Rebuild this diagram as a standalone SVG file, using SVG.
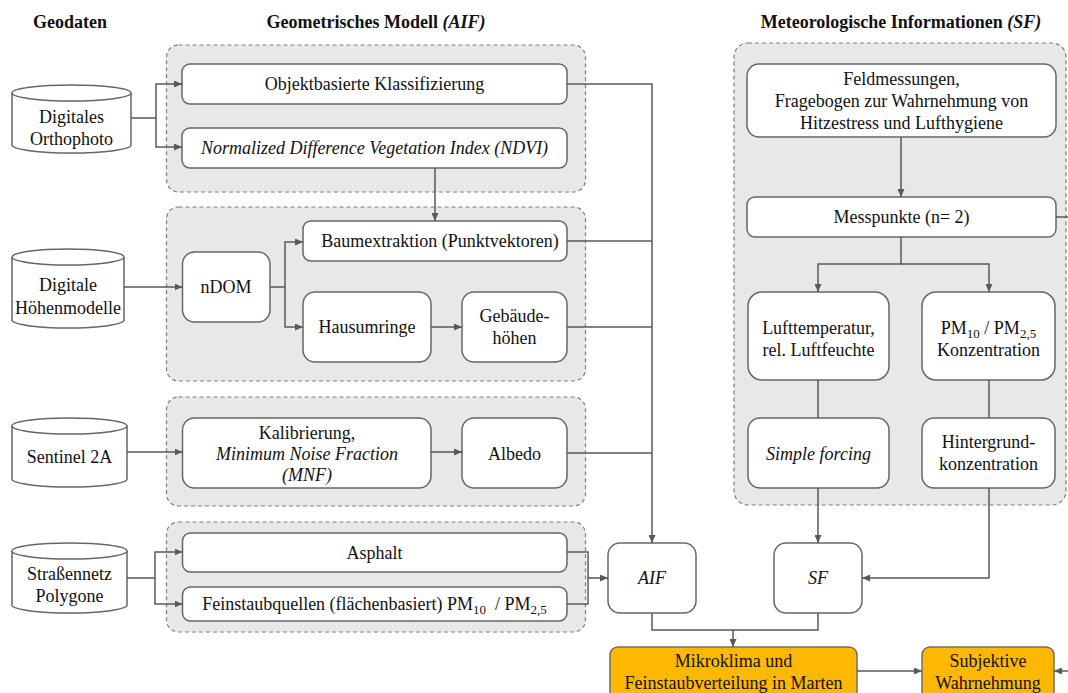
<svg xmlns="http://www.w3.org/2000/svg" width="1068" height="693" viewBox="0 0 1068 693">
  <defs>
    <marker id="arr" viewBox="0 0 8 7" refX="8" refY="3.5" markerWidth="8" markerHeight="7" markerUnits="userSpaceOnUse" orient="auto">
      <path d="M0,0 L8,3.5 L0,7 z" fill="#595959"/>
    </marker>
    <style>
      text { font-family: "Liberation Serif", "Times New Roman", serif; font-size: 18px; fill: #111; text-anchor: middle; }
      .title { font-weight: bold; }
      .it { font-style: italic; }
      .grp { fill: #E8E8E8; stroke: #7F7F7F; stroke-width: 1.2; stroke-dasharray: 4 3; }
      .box { fill: #FFFFFF; stroke: #666666; stroke-width: 1.5; }
      .hl { fill: #FFB800; stroke: #6E6E6E; stroke-width: 1.5; }
      .cyl { fill: #FFFFFF; stroke: #666666; stroke-width: 1.5; }
      .con { fill: none; stroke: #595959; stroke-width: 1.5; }
      .sub { font-size: 13px; }
    </style>
  </defs>

  <!-- column headings -->
  <text class="title" x="70" y="28">Geodaten</text>
  <text class="title" x="376" y="28">Geometrisches Modell <tspan class="it">(AIF)</tspan></text>
  <text class="title" x="901" y="28">Meteorologische Informationen <tspan class="it">(SF)</tspan></text>

  <!-- dashed processing groups -->
  <g id="group-ortho">
    <rect class="grp" x="166.5" y="45" width="419" height="147" rx="12"/>
  </g>
  <g id="group-hoehe">
    <rect class="grp" x="166.5" y="207" width="419" height="174" rx="12"/>
  </g>
  <g id="group-sentinel">
    <rect class="grp" x="166.5" y="397" width="419" height="109" rx="12"/>
  </g>
  <g id="group-strasse">
    <rect class="grp" x="166.5" y="522" width="419" height="110" rx="12"/>
  </g>
  <g id="group-meteo">
    <rect class="grp" x="734" y="43" width="332" height="462" rx="14"/>
  </g>

  <!-- data sources (cylinders) -->
  <g id="src-orthophoto">
    <path class="cyl" d="M12,93 A59.5,8 0 0 1 131,93 V145 A59.5,8 0 0 1 12,145 Z"/>
    <path class="cyl" d="M12,93 A59.5,8 0 0 0 131,93"/>
    <text x="71.5" y="123">Digitales</text>
    <text x="71.5" y="145">Orthophoto</text>
  </g>
  <g id="src-hoehenmodelle">
    <path class="cyl" d="M12,257 A56,8 0 0 1 124,257 V320 A56,8 0 0 1 12,320 Z"/>
    <path class="cyl" d="M12,257 A56,8 0 0 0 124,257"/>
    <text x="68" y="291">Digitale</text>
    <text x="68" y="314">Höhenmodelle</text>
  </g>
  <g id="src-sentinel">
    <path class="cyl" d="M12,426 A57.5,8 0 0 1 127,426 V479 A57.5,8 0 0 1 12,479 Z"/>
    <path class="cyl" d="M12,426 A57.5,8 0 0 0 127,426"/>
    <text x="69.5" y="463">Sentinel 2A</text>
  </g>
  <g id="src-strassennetz">
    <path class="cyl" d="M12,551 A57.5,8 0 0 1 127,551 V605 A57.5,8 0 0 1 12,605 Z"/>
    <path class="cyl" d="M12,551 A57.5,8 0 0 0 127,551"/>
    <text x="69.5" y="580">Straßennetz</text>
    <text x="69.5" y="602">Polygone</text>
  </g>

  <!-- geometric model nodes -->
  <g id="n-objekt">
    <rect class="box" x="182" y="64" width="385" height="40" rx="8"/>
    <text x="374.5" y="90">Objektbasierte Klassifizierung</text>
  </g>
  <g id="n-ndvi">
    <rect class="box" x="182" y="128" width="385" height="40" rx="8"/>
    <text class="it" x="374.5" y="154">Normalized Difference Vegetation Index (NDVI)</text>
  </g>
  <g id="n-ndom">
    <rect class="box" x="182.5" y="252" width="87.5" height="70" rx="12"/>
    <text x="226" y="293">nDOM</text>
  </g>
  <g id="n-baum">
    <rect class="box" x="303" y="221" width="264" height="40" rx="8"/>
    <text x="440" y="247">Baumextraktion (Punktvektoren)</text>
  </g>
  <g id="n-haus">
    <rect class="box" x="303" y="292" width="128" height="70" rx="12"/>
    <text x="367" y="333">Hausumringe</text>
  </g>
  <g id="n-gebaeude">
    <rect class="box" x="462" y="292" width="105" height="70" rx="12"/>
    <text x="514.5" y="322">Gebäude-</text>
    <text x="514.5" y="344">höhen</text>
  </g>
  <g id="n-kalibrierung">
    <rect class="box" x="182.5" y="418" width="248.5" height="70" rx="12"/>
    <text x="307" y="439">Kalibrierung,</text>
    <text class="it" x="307" y="460">Minimum Noise Fraction</text>
    <text class="it" x="307" y="481">(MNF)</text>
  </g>
  <g id="n-albedo">
    <rect class="box" x="462" y="418" width="105" height="70" rx="12"/>
    <text x="514.5" y="460">Albedo</text>
  </g>
  <g id="n-asphalt">
    <rect class="box" x="182.5" y="533" width="384.5" height="39" rx="8"/>
    <text x="374.5" y="559">Asphalt</text>
  </g>
  <g id="n-feinstaub">
    <rect class="box" x="182.5" y="587" width="384.5" height="34" rx="8"/>
    <text x="374.5" y="610">Feinstaubquellen (flächenbasiert) PM<tspan class="sub" dy="4">10</tspan><tspan dy="-4">&#160; / PM</tspan><tspan class="sub" dy="4">2,5</tspan></text>
  </g>

  <!-- meteorological nodes -->
  <g id="n-feldmessungen">
    <rect class="box" x="747" y="64" width="309" height="73" rx="12"/>
    <text x="901.5" y="85">Feldmessungen,</text>
    <text x="901.5" y="107">Fragebogen zur Wahrnehmung von</text>
    <text x="901.5" y="129">Hitzestress und Lufthygiene</text>
  </g>
  <g id="n-messpunkte">
    <rect class="box" x="747" y="197" width="309" height="40" rx="8"/>
    <text x="901.5" y="223">Messpunkte (n= 2)</text>
  </g>
  <g id="n-lufttemperatur">
    <rect class="box" x="748" y="292" width="141" height="88" rx="14"/>
    <text x="818.5" y="334">Lufttemperatur,</text>
    <text x="818.5" y="356">rel. Luftfeuchte</text>
  </g>
  <g id="n-pm">
    <rect class="box" x="922" y="292" width="133" height="88" rx="14"/>
    <text x="988.5" y="334">PM<tspan class="sub" dy="4">10</tspan><tspan dy="-4"> / PM</tspan><tspan class="sub" dy="4">2,5</tspan></text>
    <text x="988.5" y="356">Konzentration</text>
  </g>
  <g id="n-simpleforcing">
    <rect class="box" x="748" y="418" width="141" height="70" rx="12"/>
    <text class="it" x="818.5" y="460">Simple forcing</text>
  </g>
  <g id="n-hintergrund">
    <rect class="box" x="922" y="418" width="133" height="70" rx="12"/>
    <text x="988.5" y="448">Hintergrund-</text>
    <text x="988.5" y="470">konzentration</text>
  </g>

  <!-- forcing nodes -->
  <g id="n-aif">
    <rect class="box" x="608" y="543" width="88" height="70" rx="12"/>
    <text class="it" x="652" y="584">AIF</text>
  </g>
  <g id="n-sf">
    <rect class="box" x="774" y="543" width="88" height="70" rx="12"/>
    <text class="it" x="818" y="584">SF</text>
  </g>

  <!-- results -->
  <g id="n-mikroklima">
    <rect class="hl" x="610" y="647" width="247" height="60" rx="8"/>
    <text x="733.5" y="667">Mikroklima und</text>
    <text x="733.5" y="689">Feinstaubverteilung in Marten</text>
  </g>
  <g id="n-subjektiv">
    <rect class="hl" x="922" y="647" width="132" height="60" rx="8"/>
    <text x="988" y="667">Subjektive</text>
    <text x="988" y="689">Wahrnehmung</text>
  </g>

  <!-- connectors -->
  <g id="connectors">
    <path class="con" d="M131,118 H156 V84 H182" marker-end="url(#arr)"/>
    <path class="con" d="M156,118 V147 H182" marker-end="url(#arr)"/>
    <path class="con" d="M435,168 V221" marker-end="url(#arr)"/>
    <path class="con" d="M124,287 H182.5" marker-end="url(#arr)"/>
    <path class="con" d="M270,287 H285 V242 H303" marker-end="url(#arr)"/>
    <path class="con" d="M285,287 V327 H303" marker-end="url(#arr)"/>
    <path class="con" d="M431,327 H462" marker-end="url(#arr)"/>
    <path class="con" d="M127,452 H182.5" marker-end="url(#arr)"/>
    <path class="con" d="M431,452 H462" marker-end="url(#arr)"/>
    <path class="con" d="M127,578 H155 V552 H182.5" marker-end="url(#arr)"/>
    <path class="con" d="M155,578 V604 H182.5" marker-end="url(#arr)"/>
    <path class="con" d="M567,552 H588 V604 H567"/>
    <path class="con" d="M588,578 H608" marker-end="url(#arr)"/>
    <path class="con" d="M567,84 H652 V543" marker-end="url(#arr)"/>
    <path class="con" d="M567,241 H652"/>
    <path class="con" d="M567,327 H652"/>
    <path class="con" d="M567,453 H652"/>
    <path class="con" d="M901,137 V197" marker-end="url(#arr)"/>
    <path class="con" d="M1056,217 H1068"/>
    <path class="con" d="M901,237 V264 H818 V292" marker-end="url(#arr)"/>
    <path class="con" d="M901,264 H989 V292" marker-end="url(#arr)"/>
    <path class="con" d="M818,380 V418"/>
    <path class="con" d="M989,380 V418"/>
    <path class="con" d="M818,488 V543" marker-end="url(#arr)"/>
    <path class="con" d="M989,488 V578 H862" marker-end="url(#arr)"/>
    <path class="con" d="M652,613 V630 H818 V613"/>
    <path class="con" d="M733,630 V647" marker-end="url(#arr)"/>
    <path class="con" d="M857,671 H922" marker-end="url(#arr)"/>
    <path class="con" d="M1068,671 H1054" marker-end="url(#arr)"/>
  </g>
</svg>
